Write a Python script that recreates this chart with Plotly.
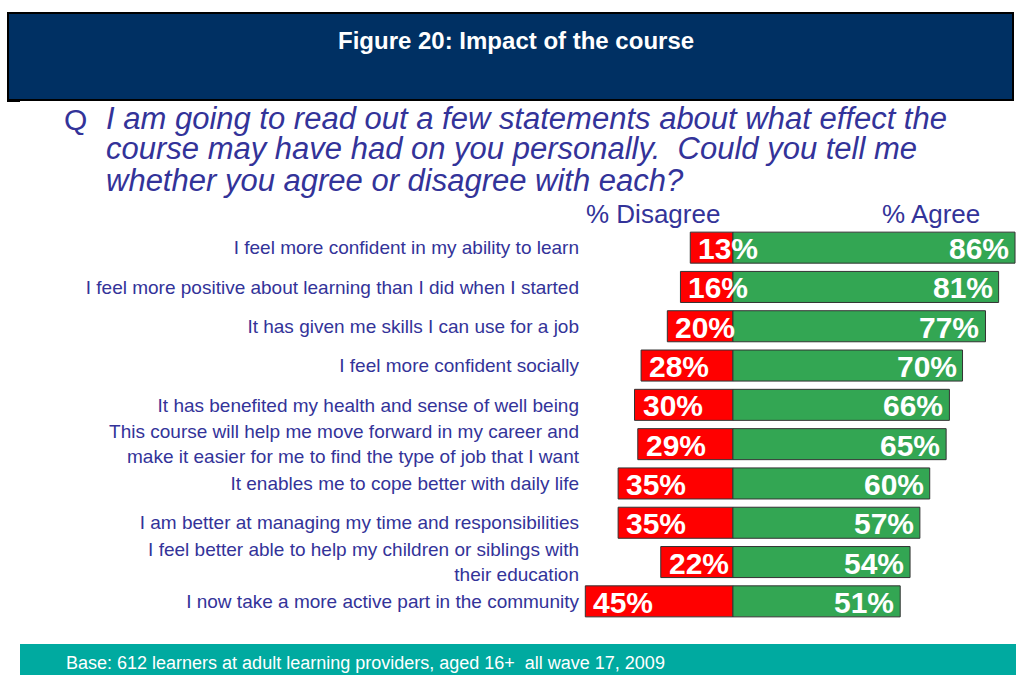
import plotly.graph_objects as go

# ---- data ----
statements = [
    "I feel more confident in my ability to learn",
    "I feel more positive about learning than I did when I started",
    "It has given me skills I can use for a job",
    "I feel more confident socially",
    "It has benefited my health and sense of well being",
    "This course will help me move forward in my career and<br>make it easier for me to find the type of job that I want",
    "It enables me to cope better with daily life",
    "I am better at managing my time and responsibilities",
    "I feel better able to help my children or siblings with<br>their education",
    "I now take a more active part in the community",
]
disagree = [13, 16, 20, 28, 30, 29, 35, 35, 22, 45]
agree = [86, 81, 77, 70, 66, 65, 60, 57, 54, 51]

title_text = "Figure 20: Impact of the course"
question_lines = [
    "I am going to read out a few statements about what effect the",
    "course may have had on you personally.  Could you tell me",
    "whether you agree or disagree with each?",
]
base_text = "Base: 612 learners at adult learning providers, aged 16+  all wave 17, 2009"

# ---- styling ----
FONT = "Liberation Sans, Arial, sans-serif"
TXT = "#333399"
RED = "#FF0000"
GREEN = "#33A653"
NAVY = "#003063"
TEAL = "#00AAA0"

W, H = 1016, 675
ML, MR, MT, MB = 584, 0, 228, 54
PW, PH = W - ML - MR, H - MT - MB


def px(x):
    return (x - ML) / PW


def py(y):
    return (H - MB - y) / PH


neg = [-v for v in disagree]

fig = go.Figure()
fig.add_trace(go.Bar(
    y=statements, x=neg, orientation="h", base=0,
    marker=dict(color=RED, line=dict(color="#333333", width=1)),
    width=0.79, hoverinfo="skip", showlegend=False,
))
fig.add_trace(go.Bar(
    y=statements, x=agree, orientation="h", base=0,
    marker=dict(color=GREEN, line=dict(color="#333333", width=1)),
    width=0.79, hoverinfo="skip", showlegend=False,
))

bar_font = dict(family=FONT, size=30, color="white", weight="bold")
annotations = []
for s, d in zip(statements, neg):
    annotations.append(dict(
        text=f"{-d}%", x=d, y=s, xref="x", yref="y", xanchor="left", yanchor="middle",
        xshift=6, yshift=-1, showarrow=False, font=bar_font))
for s, a in zip(statements, agree):
    annotations.append(dict(
        text=f"{a}%", x=a, y=s, xref="x", yref="y", xanchor="right", yanchor="middle",
        xshift=-4, yshift=-1, showarrow=False, font=bar_font))

shapes = [
    dict(type="rect", xref="paper", yref="paper", x0=px(8), x1=px(1013), y0=py(100), y1=py(13),
         fillcolor=NAVY, line=dict(color="black", width=2), layer="below"),
    dict(type="rect", xref="paper", yref="paper", x0=px(7), x1=px(20), y0=py(102), y1=py(99),
         fillcolor="black", line=dict(width=0), layer="below"),
    dict(type="rect", xref="paper", yref="paper", x0=px(20), x1=px(1016), y0=py(675), y1=py(644),
         fillcolor=TEAL, line=dict(width=0), layer="below"),
]

annotations += [
    dict(text=title_text, x=px(516), y=py(41), xref="paper", yref="paper",
         xanchor="center", yanchor="middle", showarrow=False,
         font=dict(family=FONT, size=24, color="white", weight="bold")),
    dict(text="Q", x=px(62), y=py(119), xref="paper", yref="paper",
         xanchor="left", yanchor="middle", showarrow=False,
         font=dict(family=FONT, size=30, color=TXT)),
    dict(text="% Disagree", x=px(584), y=py(214), xref="paper", yref="paper",
         xanchor="left", yanchor="middle", showarrow=False,
         font=dict(family=FONT, size=26, color=TXT)),
    dict(text="% Agree", x=px(880), y=py(214), xref="paper", yref="paper",
         xanchor="left", yanchor="middle", showarrow=False,
         font=dict(family=FONT, size=26, color=TXT)),
    dict(text=base_text, x=px(64), y=py(663), xref="paper", yref="paper",
         xanchor="left", yanchor="middle", showarrow=False,
         font=dict(family=FONT, size=18, color="white")),
]
for i, line in enumerate(question_lines):
    annotations.append(dict(
        text=f"<i>{line}</i>", x=px(104), y=py(118 + 31 * i), xref="paper", yref="paper",
        xanchor="left", yanchor="middle", showarrow=False,
        font=dict(family=FONT, size=31, color=TXT)))

fig.update_layout(
    width=W, height=H,
    margin=dict(l=ML, r=MR, t=MT, b=MB, pad=0),
    paper_bgcolor="white", plot_bgcolor="rgba(0,0,0,0)",
    barmode="overlay", bargap=0.2,
    xaxis=dict(range=[-45.4, 86.3], visible=False, fixedrange=True),
    yaxis=dict(autorange="reversed", showgrid=False, zeroline=False, showline=False,
               ticks="", ticklabelstandoff=4,
               tickfont=dict(family=FONT, size=19, color=TXT), fixedrange=True),
    shapes=shapes, annotations=annotations,
    font=dict(family=FONT),
)

fig.write_html("out.html", config={"displayModeBar": False},
               post_script="document.body.style.margin='0';")
